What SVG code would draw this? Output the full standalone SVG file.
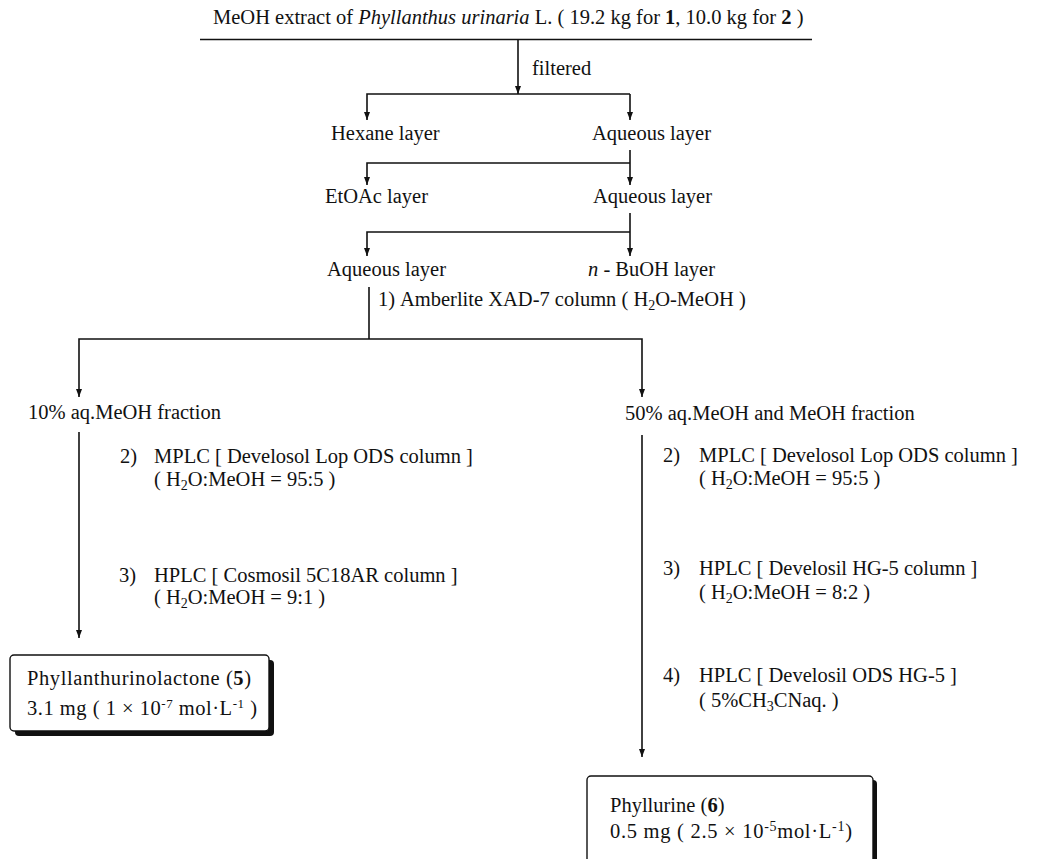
<svg xmlns="http://www.w3.org/2000/svg" width="1038" height="859" viewBox="0 0 1038 859">
<defs>
<style>
text{font-family:"Liberation Serif","Times New Roman",serif;font-size:20.5px;fill:#111;}
.it{font-style:italic;}
.b{font-weight:bold;}
.conn path,.conn line{fill:none;stroke:#111;stroke-width:1.6;}
.box{fill:#fff;stroke:#111;stroke-width:1.4;}
.shadow{fill:#111;}
</style>
<marker id="ah" viewBox="0 0 8 6" refX="8" refY="3" markerWidth="8" markerHeight="6" markerUnits="userSpaceOnUse" orient="auto">
<path d="M0,0 L8,3 L0,6 z" fill="#111"/>
</marker>
</defs>
<rect width="1038" height="859" fill="#fff"/>

<g id="connectors" class="conn">
<line x1="200" y1="39.5" x2="812" y2="39.5"/>
<path d="M518,40 V94" marker-end="url(#ah)"/>
<path d="M630,94 H367 V120" marker-end="url(#ah)"/>
<path d="M630,94 V120" marker-end="url(#ah)"/>
<path d="M630,150 V185" marker-end="url(#ah)"/>
<path d="M630,163 H367 V185" marker-end="url(#ah)"/>
<path d="M630,213 V256" marker-end="url(#ah)"/>
<path d="M630,232 H367 V256" marker-end="url(#ah)"/>
<path d="M369,287 V339"/>
<path d="M369,339 H79 V397" marker-end="url(#ah)"/>
<path d="M369,339 H642 V397" marker-end="url(#ah)"/>
<path d="M79,432 V638" marker-end="url(#ah)"/>
<path d="M642,435 V757" marker-end="url(#ah)"/>
</g>

<g id="title">
<text x="213" y="24">MeOH extract of <tspan class="it">Phyllanthus urinaria</tspan> L. ( 19.2 kg for <tspan class="b">1</tspan>, 10.0 kg for <tspan class="b">2</tspan> )</text>
<text x="532" y="75">filtered</text>
</g>

<g id="hexane"><text x="331" y="140">Hexane layer</text></g>
<g id="aqueous1"><text x="592" y="140">Aqueous layer</text></g>
<g id="etoac"><text x="325" y="203">EtOAc layer</text></g>
<g id="aqueous2"><text x="593" y="203">Aqueous layer</text></g>
<g id="aqueous3"><text x="327" y="276">Aqueous layer</text></g>
<g id="buoh"><text x="588" y="276"><tspan class="it">n</tspan> - BuOH layer</text></g>

<g id="step1">
<text x="378" y="306">1)</text>
<text x="400" y="306">Amberlite XAD-7 column ( H<tspan dy="4" font-size="14">2</tspan><tspan dy="-4">O-MeOH )</tspan></text>
</g>

<g id="frac10"><text x="28" y="419">10% aq.MeOH fraction</text></g>
<g id="frac50"><text x="625" y="420">50% aq.MeOH and MeOH fraction</text></g>

<g id="left-steps">
<text x="120" y="463">2)</text>
<text x="154" y="463">MPLC [ Develosol Lop ODS column ]</text>
<text x="154" y="486">( H<tspan dy="4" font-size="14">2</tspan><tspan dy="-4">O:MeOH = 95:5 )</tspan></text>
<text x="119" y="582">3)</text>
<text x="154" y="582">HPLC [ Cosmosil 5C18AR column ]</text>
<text x="154" y="604">( H<tspan dy="4" font-size="14">2</tspan><tspan dy="-4">O:MeOH = 9:1 )</tspan></text>
</g>

<g id="right-steps">
<text x="663" y="462">2)</text>
<text x="699" y="462">MPLC [ Develosol Lop ODS column ]</text>
<text x="699" y="485">( H<tspan dy="4" font-size="14">2</tspan><tspan dy="-4">O:MeOH = 95:5 )</tspan></text>
<text x="663" y="575">3)</text>
<text x="699" y="575">HPLC [ Develosil HG-5 column ]</text>
<text x="699" y="599">( H<tspan dy="4" font-size="14">2</tspan><tspan dy="-4">O:MeOH = 8:2 )</tspan></text>
<text x="663" y="682">4)</text>
<text x="699" y="682">HPLC [ Develosil ODS HG-5 ]</text>
<text x="699" y="707">( 5%CH<tspan dy="4" font-size="14">3</tspan><tspan dy="-4">CNaq.  )</tspan></text>
</g>

<g id="product5">
<rect class="shadow" x="15" y="660" width="259" height="76" rx="4"/>
<rect class="box" x="10" y="655" width="259" height="76" rx="4"/>
<text x="27" y="685" textLength="224" lengthAdjust="spacing">Phyllanthurinolactone (<tspan class="b">5</tspan>)</text>
<text x="27" y="715" textLength="230" lengthAdjust="spacing">3.1 mg ( 1 × 10<tspan dy="-7" font-size="13">-7</tspan><tspan dy="7"> mol·L</tspan><tspan dy="-7" font-size="13">-1</tspan><tspan dy="7"> )</tspan></text>
</g>

<g id="product6">
<rect class="shadow" x="591" y="780" width="286" height="96" rx="4"/>
<rect class="box" x="587" y="776" width="286" height="96" rx="4"/>
<text x="610" y="812">Phyllurine (<tspan class="b">6</tspan>)</text>
<text x="610" y="838" textLength="242" lengthAdjust="spacing">0.5 mg ( 2.5 × 10<tspan dy="-7" font-size="14">-5</tspan><tspan dy="7">mol·L</tspan><tspan dy="-7" font-size="14">-1</tspan><tspan dy="7">)</tspan></text>
</g>
</svg>
